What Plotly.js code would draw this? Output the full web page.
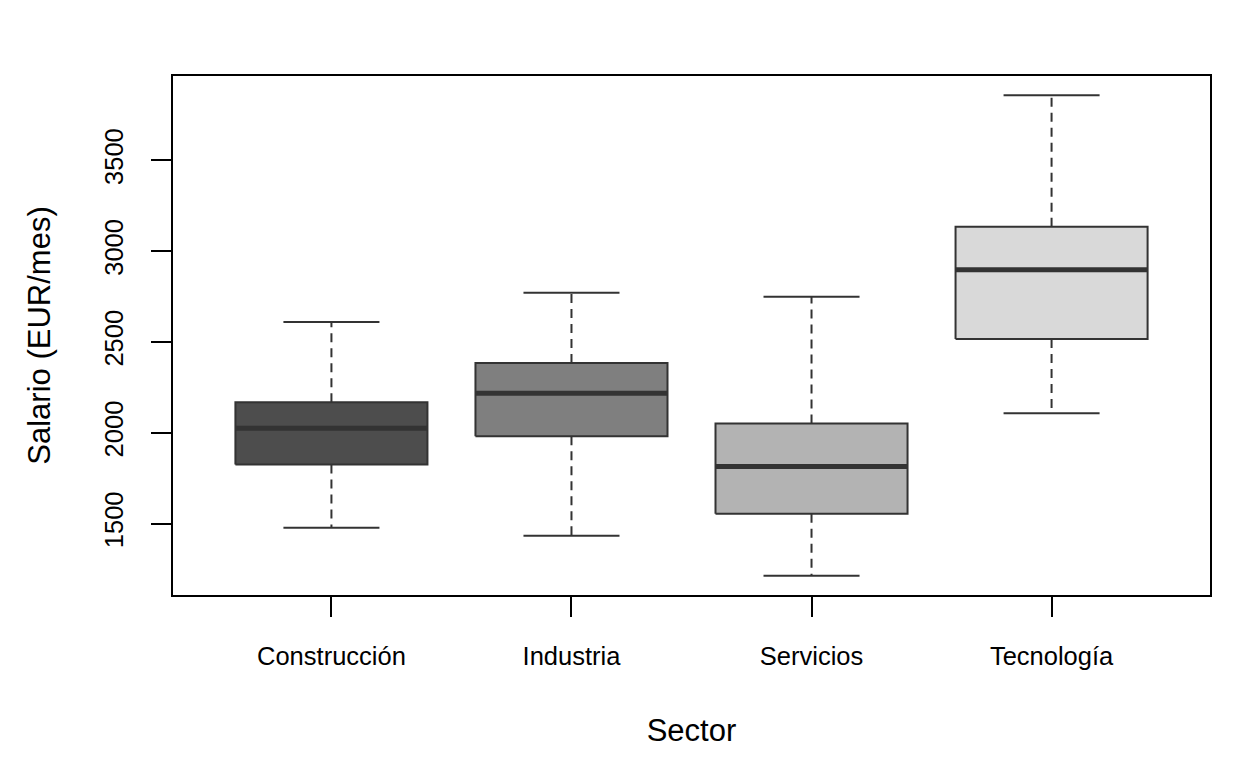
<!DOCTYPE html>
<html>
<head>
<meta charset="utf-8">
<script src="https://cdn.plot.ly/plotly-3.0.1.min.js"></script>
<style>html,body{margin:0;padding:0;background:#fff;}#chart{width:1248px;height:768px;}</style>
</head>
<body>
<div id="chart"></div>
<script>
const categories = ["Construcción", "Industria", "Servicios", "Tecnología"];
const lowerWhisker = [1478, 1434, 1213, 2108];
const q1Values = [1826, 1981, 1555, 2517];
const medianValues = [2025, 2218, 1815, 2898];
const q3Values = [2168, 2384, 2052, 3135];
const upperWhisker = [2610, 2771, 2749, 3859];
const fillColors = ["#4D4D4D", "#7F7F7F", "#B3B3B3", "#D9D9D9"];
const yTicks = [1500, 2000, 2500, 3000, 3500];

const FONT = "Liberation Sans, Arial, Helvetica, sans-serif";
const EDGE = "#333333";
const halfBox = 0.4, halfStaple = 0.2;
const traces = [];

categories.forEach((c, i) => {
  const x = i + 1;
  traces.push({type: "scatter", mode: "lines", x: [x, x], y: [q3Values[i], upperWhisker[i]],
    line: {color: EDGE, width: 2, dash: "9px,6px"}, hoverinfo: "skip", showlegend: false});
  traces.push({type: "scatter", mode: "lines", x: [x, x], y: [q1Values[i], lowerWhisker[i]],
    line: {color: EDGE, width: 2, dash: "9px,6px"}, hoverinfo: "skip", showlegend: false});
  traces.push({type: "scatter", mode: "lines", x: [x - halfStaple, x + halfStaple], y: [upperWhisker[i], upperWhisker[i]],
    line: {color: EDGE, width: 2}, hoverinfo: "skip", showlegend: false});
  traces.push({type: "scatter", mode: "lines", x: [x - halfStaple, x + halfStaple], y: [lowerWhisker[i], lowerWhisker[i]],
    line: {color: EDGE, width: 2}, hoverinfo: "skip", showlegend: false});
  traces.push({type: "scatter", mode: "lines",
    x: [x - halfBox, x + halfBox, x + halfBox, x - halfBox, x - halfBox],
    y: [q1Values[i], q1Values[i], q3Values[i], q3Values[i], q1Values[i]],
    fill: "toself", fillcolor: fillColors[i], line: {color: EDGE, width: 2},
    name: c, hoverinfo: "skip", showlegend: false});
  traces.push({type: "scatter", mode: "lines", x: [x - halfBox, x + halfBox], y: [medianValues[i], medianValues[i]],
    line: {color: EDGE, width: 5}, hoverinfo: "skip", showlegend: false});
});

const yMin = Math.min(...lowerWhisker), yMax = Math.max(...upperWhisker);
const pad = 0.04 * (yMax - yMin);

const layout = {
  width: 1248, height: 768,
  paper_bgcolor: "#ffffff", plot_bgcolor: "#ffffff",
  margin: {l: 173, r: 38, t: 76, b: 173},
  showlegend: false,
  font: {family: FONT, color: "#000000", size: 25},
  xaxis: {
    range: [0.5 - 0.04 * 4, categories.length + 0.5 + 0.04 * 4],
    tickmode: "array", tickvals: categories.map((c, i) => i + 1), ticktext: categories,
    ticks: "outside", ticklen: 20, tickwidth: 2, tickcolor: "#000",
    showline: true, mirror: true, linecolor: "#000", linewidth: 2,
    showgrid: false, zeroline: false,
    tickfont: {family: FONT, size: 25.5, color: "#000"},
    ticklabelstandoff: 17,
    title: {text: "Sector", font: {family: FONT, size: 31, color: "#000"}, standoff: 51},
    automargin: false, fixedrange: true
  },
  yaxis: {
    range: [yMin - pad, yMax + pad],
    tickmode: "array", tickvals: yTicks, ticktext: yTicks.map(String),
    tickangle: -90,
    ticks: "outside", ticklen: 20, tickwidth: 2, tickcolor: "#000",
    showline: true, mirror: true, linecolor: "#000", linewidth: 2,
    showgrid: false, zeroline: false,
    tickfont: {family: FONT, size: 25.5, color: "#000"},
    ticklabelstandoff: 18,
    title: {text: "Salario (EUR/mes)", font: {family: FONT, size: 31, color: "#000"}, standoff: 40},
    automargin: false, fixedrange: true
  }
};

Plotly.newPlot("chart", traces, layout, {displayModeBar: false, staticPlot: true});
</script>
</body>
</html>
